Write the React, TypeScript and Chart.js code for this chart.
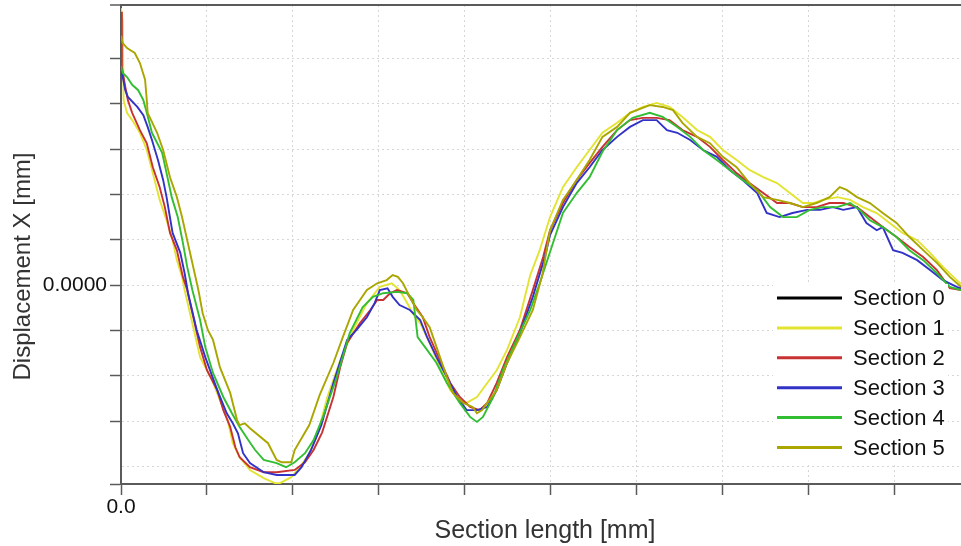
import React, { useEffect, useRef } from 'react';
import { Chart, registerables } from 'chart.js';

Chart.register(...registerables);

// ---- data (x: section length, y: displacement; one tick step = 1 unit) ----
const sectionNames = ['Section 0', 'Section 1', 'Section 2', 'Section 3', 'Section 4', 'Section 5'];
const sectionColors = ['#000000', '#e3e332', '#c83232', '#3232c8', '#32be32', '#aaa600'];

const section0: [number, number][] = [];

const section1: [number, number][] = [
  [0, 6.11], [0.02, 5.85], [0.03, 4.08], [0.07, 3.8], [0.13, 3.64], [0.22, 3.36], [0.3, 2.98], [0.37, 2.47],
  [0.45, 1.88], [0.53, 1.43], [0.6, 0.99], [0.65, 0.55], [0.71, 0.18], [0.74, -0.11], [0.84, -0.93], [0.92, -1.59],
  [1.06, -2.1], [1.15, -2.54], [1.24, -2.98], [1.3, -3.49], [1.38, -3.8], [1.5, -4.08], [1.66, -4.26], [1.79, -4.37],
  [1.85, -4.37], [1.98, -4.24], [2.08, -4.02], [2.19, -3.71], [2.29, -3.27], [2.4, -2.47], [2.55, -1.66], [2.7, -0.99],
  [2.86, -0.4], [3.01, -0.04], [3.15, 0.04], [3.24, -0.11], [3.33, -0.4], [3.42, -0.71], [3.48, -0.84], [3.59, -1.28],
  [3.71, -1.81], [3.83, -2.32], [3.94, -2.54], [4.02, -2.6], [4.14, -2.47], [4.26, -2.16], [4.37, -1.88], [4.49, -1.43],
  [4.64, -0.71], [4.76, 0.22], [4.87, 0.77], [4.99, 1.5], [5.14, 2.16], [5.3, 2.6], [5.45, 2.98], [5.6, 3.36],
  [5.77, 3.58], [5.92, 3.8], [6.07, 3.93], [6.23, 4.02], [6.38, 3.93], [6.53, 3.71], [6.7, 3.42], [6.85, 3.27],
  [7.0, 2.98], [7.16, 2.76], [7.31, 2.54], [7.47, 2.38], [7.63, 2.25], [7.78, 2.03], [7.93, 1.81], [8.05, 1.81],
  [8.16, 1.88], [8.33, 1.94], [8.48, 1.88], [8.63, 1.72], [8.79, 1.59], [8.94, 1.37], [9.09, 1.15], [9.26, 0.99],
  [9.41, 0.71], [9.56, 0.4], [9.72, 0.11], [9.77, 0.02],
];

const section2: [number, number][] = [
  [0, 6.03], [0.01, 4.81], [0.05, 4.37], [0.08, 4.08], [0.13, 3.8], [0.22, 3.42], [0.3, 3.13], [0.37, 2.6],
  [0.45, 2.16], [0.51, 1.72], [0.57, 1.15], [0.65, 0.77], [0.72, 0.18], [0.77, -0.11], [0.92, -1.37], [1.0, -1.88],
  [1.12, -2.32], [1.19, -2.76], [1.27, -3.13], [1.33, -3.58], [1.38, -3.8], [1.5, -4.02], [1.66, -4.13], [1.81, -4.13],
  [2.02, -4.08], [2.14, -3.91], [2.24, -3.64], [2.34, -3.25], [2.47, -2.47], [2.55, -1.81], [2.63, -1.28], [2.78, -0.84],
  [2.9, -0.55], [2.98, -0.33], [3.05, -0.33], [3.13, -0.18], [3.21, -0.11], [3.33, -0.18], [3.4, -0.4], [3.51, -0.71],
  [3.59, -1.15], [3.71, -1.66], [3.83, -2.16], [3.94, -2.47], [4.06, -2.69], [4.17, -2.76], [4.26, -2.6], [4.37, -2.16],
  [4.49, -1.59], [4.64, -0.99], [4.79, -0.11], [4.91, 0.62], [4.99, 1.21], [5.14, 1.81], [5.3, 2.32], [5.45, 2.69],
  [5.6, 3.05], [5.77, 3.42], [5.92, 3.64], [6.07, 3.69], [6.23, 3.69], [6.38, 3.64], [6.53, 3.42], [6.7, 3.27],
  [6.85, 3.05], [7.0, 2.76], [7.16, 2.47], [7.31, 2.25], [7.47, 2.03], [7.63, 1.81], [7.78, 1.81], [7.93, 1.72],
  [8.09, 1.72], [8.24, 1.81], [8.4, 1.81], [8.56, 1.72], [8.71, 1.5], [8.86, 1.28], [9.02, 1.06], [9.17, 0.84],
  [9.33, 0.62], [9.49, 0.33], [9.64, -0.07], [9.77, -0.11],
];

const section3: [number, number][] = [
  [0, 4.75], [0.02, 4.59], [0.05, 4.3], [0.08, 4.15], [0.19, 3.93], [0.26, 3.75], [0.31, 3.49], [0.36, 3.2],
  [0.43, 2.76], [0.49, 2.32], [0.53, 1.94], [0.6, 1.15], [0.69, 0.71], [0.74, 0.26], [0.78, -0.18], [0.88, -0.99],
  [0.98, -1.59], [1.12, -2.32], [1.23, -2.83], [1.3, -3.05], [1.36, -3.27], [1.42, -3.71], [1.5, -3.93], [1.66, -4.13],
  [1.81, -4.19], [2.02, -4.19], [2.1, -4.02], [2.21, -3.64], [2.33, -3.09], [2.47, -2.16], [2.63, -1.21], [2.74, -0.99],
  [2.86, -0.71], [2.95, -0.4], [3.01, -0.11], [3.1, -0.07], [3.16, -0.26], [3.24, -0.44], [3.36, -0.55], [3.48, -0.77],
  [3.56, -1.15], [3.67, -1.59], [3.79, -2.03], [3.91, -2.47], [4.02, -2.76], [4.14, -2.76], [4.26, -2.69], [4.37, -2.32],
  [4.49, -1.72], [4.64, -1.06], [4.79, -0.26], [4.93, 0.62], [4.99, 1.1], [5.14, 1.72], [5.3, 2.25], [5.45, 2.6],
  [5.6, 2.98], [5.77, 3.27], [5.92, 3.49], [6.07, 3.64], [6.23, 3.64], [6.35, 3.42], [6.47, 3.36], [6.62, 3.2],
  [6.77, 2.98], [6.93, 2.83], [7.08, 2.54], [7.23, 2.32], [7.4, 2.03], [7.51, 1.59], [7.66, 1.5], [7.81, 1.59],
  [7.98, 1.66], [8.13, 1.66], [8.28, 1.72], [8.4, 1.66], [8.56, 1.72], [8.67, 1.37], [8.79, 1.21], [8.86, 1.28],
  [8.98, 0.77], [9.09, 0.71], [9.26, 0.55], [9.41, 0.33], [9.56, 0.11], [9.72, -0.04], [9.77, -0.07],
];

const section4: [number, number][] = [
  [0, 4.83], [0.02, 4.68], [0.07, 4.59], [0.13, 4.42], [0.2, 4.3], [0.26, 4.08], [0.3, 3.8], [0.36, 3.36],
  [0.48, 2.91], [0.53, 2.47], [0.59, 1.94], [0.66, 1.5], [0.72, 0.93], [0.77, 0.4], [0.83, -0.11], [0.92, -0.77],
  [0.98, -1.37], [1.07, -1.94], [1.19, -2.47], [1.29, -2.83], [1.38, -3.13], [1.48, -3.42], [1.56, -3.64], [1.66, -3.86],
  [1.81, -3.93], [1.92, -4.02], [2.02, -3.91], [2.14, -3.71], [2.24, -3.42], [2.35, -2.91], [2.51, -2.03], [2.66, -1.06],
  [2.81, -0.49], [2.93, -0.26], [3.05, -0.18], [3.21, -0.15], [3.33, -0.18], [3.4, -0.33], [3.45, -1.15], [3.56, -1.43],
  [3.67, -1.72], [3.79, -2.16], [3.94, -2.6], [4.06, -2.91], [4.14, -3.02], [4.21, -2.91], [4.33, -2.47], [4.44, -1.88],
  [4.6, -1.21], [4.76, -0.55], [4.87, 0.04], [4.99, 0.73], [5.14, 1.59], [5.3, 2.03], [5.45, 2.38], [5.6, 2.94],
  [5.77, 3.42], [5.95, 3.69], [6.15, 3.8], [6.3, 3.71], [6.47, 3.49], [6.62, 3.27], [6.77, 2.98], [6.93, 2.76],
  [7.08, 2.54], [7.23, 2.32], [7.4, 2.1], [7.55, 1.72], [7.7, 1.5], [7.86, 1.5], [8.01, 1.66], [8.16, 1.72],
  [8.33, 1.72], [8.48, 1.81], [8.59, 1.66], [8.71, 1.43], [8.86, 1.28], [9.02, 1.06], [9.17, 0.77], [9.33, 0.55],
  [9.49, 0.26], [9.64, -0.04], [9.77, -0.11],
];

const section5: [number, number][] = [
  [0, 5.5], [0.02, 5.34], [0.07, 5.23], [0.16, 5.12], [0.22, 4.9], [0.28, 4.53], [0.3, 4.08], [0.31, 3.8],
  [0.42, 3.36], [0.49, 2.98], [0.57, 2.38], [0.65, 1.94], [0.71, 1.5], [0.77, 0.99], [0.84, 0.4], [0.9, -0.11],
  [0.95, -0.62], [1.01, -0.99], [1.07, -1.21], [1.15, -1.81], [1.27, -2.38], [1.35, -2.98], [1.38, -3.09], [1.44, -3.05],
  [1.5, -3.16], [1.71, -3.49], [1.81, -3.86], [1.87, -3.91], [1.98, -3.91], [2.02, -3.64], [2.19, -3.09], [2.31, -2.43],
  [2.47, -1.72], [2.58, -1.15], [2.7, -0.55], [2.86, -0.11], [2.98, 0.04], [3.09, 0.11], [3.16, 0.22], [3.22, 0.18],
  [3.28, 0.04], [3.36, -0.26], [3.44, -0.55], [3.51, -0.71], [3.59, -0.93], [3.63, -1.15], [3.71, -1.59], [3.79, -2.03],
  [3.86, -2.38], [3.98, -2.6], [4.09, -2.69], [4.14, -2.83], [4.2, -2.76], [4.26, -2.6], [4.37, -2.32], [4.49, -1.72],
  [4.64, -1.15], [4.79, -0.55], [4.9, 0.22], [4.99, 1.21], [5.14, 1.88], [5.3, 2.32], [5.45, 2.76], [5.6, 3.27],
  [5.77, 3.49], [5.92, 3.8], [6.15, 3.97], [6.3, 3.93], [6.42, 3.86], [6.53, 3.58], [6.7, 3.27], [6.85, 3.13],
  [7.0, 2.83], [7.16, 2.6], [7.31, 2.25], [7.47, 1.94], [7.63, 1.88], [7.78, 1.81], [7.93, 1.72], [8.09, 1.81],
  [8.24, 1.94], [8.36, 2.16], [8.44, 2.1], [8.56, 1.94], [8.71, 1.81], [8.86, 1.59], [9.02, 1.37], [9.17, 1.06],
  [9.33, 0.77], [9.49, 0.49], [9.64, 0.18], [9.77, -0.04],
];

const sectionData = [section0, section1, section2, section3, section4, section5];

// ---- axes ----
const xMin = 0;
const xMax = 9.77;
const yMin = -4.39;
const yMax = 6.18;
const xTickValues = [0, 1, 2, 3, 4, 5, 6, 7, 8, 9];
const yTickValues = [-4, -3, -2, -1, 0, 1, 2, 3, 4, 5];
const xZeroLabel = '0.0';
const yZeroLabel = '0.0000';
const xTitle = 'Section length [mm]';
const yTitle = 'Displacement X [mm]';

const FONT = '"Liberation Sans", Arial, Helvetica, sans-serif';
const AXIS = '#5a5a5a';
const GRID = '#d6d6d6';

const overlayPlugin = {
  id: 'overlay',
  afterDraw(chart: any) {
    const { ctx, chartArea: a } = chart;
    ctx.save();
    // axis titles
    ctx.fillStyle = '#333333';
    ctx.textAlign = 'center';
    ctx.textBaseline = 'alphabetic';
    ctx.font = `25px ${FONT}`;
    ctx.fillText(xTitle, (a.left + a.right) / 2 + 4, a.bottom + 54);
    ctx.save();
    ctx.translate(a.left - 91, (a.top + a.bottom) / 2 + 22);
    ctx.rotate(-Math.PI / 2);
    ctx.font = `24px ${FONT}`;
    ctx.fillText(yTitle, 0, 0);
    ctx.restore();

    // legend (inside the plot, bottom right)
    const bgLeft = a.right - 188;
    const bgTop = a.bottom - 200;
    ctx.fillStyle = '#ffffff';
    ctx.fillRect(bgLeft, bgTop, 175, 178);
    const ds = chart.data.datasets;
    ctx.font = `22px ${FONT}`;
    ctx.textAlign = 'left';
    ctx.textBaseline = 'middle';
    for (let i = 0; i < ds.length; i++) {
      const y = a.bottom - 186 + i * 29.9;
      ctx.strokeStyle = ds[i].borderColor;
      ctx.lineWidth = 3;
      ctx.beginPath();
      ctx.moveTo(a.right - 184, y);
      ctx.lineTo(a.right - 119, y);
      ctx.stroke();
      ctx.fillStyle = '#111111';
      ctx.fillText(ds[i].label, a.right - 108, y + 1);
    }
    ctx.restore();
  },
};

export default function App() {
  const ref = useRef<HTMLCanvasElement | null>(null);

  useEffect(() => {
    if (!ref.current) return;
    const chart = new Chart(ref.current, {
      type: 'line',
      data: {
        datasets: sectionData.map((pts, i) => ({
          label: sectionNames[i],
          data: pts.map(([x, y]) => ({ x, y })),
          borderColor: sectionColors[i],
          backgroundColor: sectionColors[i],
          borderWidth: 1.9,
          pointRadius: 0,
          tension: 0,
          fill: false,
          order: sectionData.length - i,
        })),
      },
      options: {
        responsive: false,
        animation: false,
        events: [],
        layout: { padding: { top: 5, right: 0, left: 0, bottom: 0 } },
        plugins: { legend: { display: false }, tooltip: { enabled: false }, title: { display: false } },
        scales: {
          x: {
            type: 'linear',
            min: xMin,
            max: xMax,
            afterFit: (s: any) => { s.height = 62; s.paddingLeft = 0; s.paddingRight = 0; },
            afterBuildTicks: (s: any) => { s.ticks = xTickValues.map((v) => ({ value: v })); },
            ticks: {
              autoSkip: false,
              maxRotation: 0,
              padding: 0,
              color: '#111111',
              font: { family: FONT, size: 21 },
              callback: (v: any) => (Number(v) === 0 ? xZeroLabel : ''),
            },
            grid: {
              color: GRID,
              lineWidth: 1,
              tickLength: 11,
              tickColor: AXIS,
              tickWidth: 1.5,
            },
            border: { display: true, color: AXIS, width: 2, dash: [2, 3] },
          },
          y: {
            type: 'linear',
            min: yMin,
            max: yMax,
            afterFit: (s: any) => { s.width = 121; s.paddingTop = 0; s.paddingBottom = 0; },
            afterBuildTicks: (s: any) => {
              s.ticks = [yMin, ...yTickValues, yMax].map((v) => ({ value: v }));
            },
            ticks: {
              autoSkip: false,
              padding: 3,
              color: '#111111',
              font: { family: FONT, size: 21 },
              callback: (v: any) => (Number(v) === 0 ? yZeroLabel : ''),
            },
            grid: {
              color: (c: any) => {
                const v = c.tick ? c.tick.value : 0;
                if (v === yMax) return AXIS;
                if (v === yMin) return 'rgba(0,0,0,0)';
                return GRID;
              },
              lineWidth: (c: any) => (c.tick && c.tick.value === yMax ? 2 : 1),
              tickLength: 11,
              tickColor: (c: any) => (c.tick && c.tick.value === -4 ? 'rgba(0,0,0,0)' : AXIS),
              tickWidth: 1.5,
            },
            border: {
              display: true,
              color: AXIS,
              width: 2,
              dash: (c: any) => (c.tick && c.tick.value === yMax ? [] : [2, 3]),
            },
          },
        },
      },
      plugins: [overlayPlugin],
    } as any);
    return () => chart.destroy();
  }, []);

  return (
    <div style={{ position: 'absolute', left: 0, top: 0, width: 961, height: 546, background: '#ffffff' }}>
      <canvas ref={ref} width={961} height={546} style={{ display: 'block', width: 961, height: 546 }} />
    </div>
  );
}
